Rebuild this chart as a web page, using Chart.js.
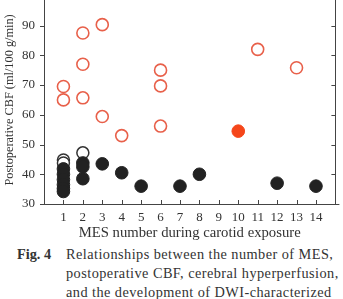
<!DOCTYPE html>
<html>
<head>
<meta charset="utf-8">
<script src="https://cdn.jsdelivr.net/npm/chart.js@4.4.1/dist/chart.umd.min.js"></script>
<style>
  body { margin: 0; background: #fff; width: 343px; height: 299px; overflow: hidden; position: relative; }
  #wrap { position: absolute; left: 0; top: -21px; width: 343px; height: 263px; }
  .cap { position: absolute; font-family: "Liberation Serif", serif; font-size: 14.3px; letter-spacing: 0.45px; color: #333; white-space: nowrap; }
  .fig { font-weight: bold; letter-spacing: 0; }
</style>
</head>
<body>
<div id="wrap"><canvas id="scatter"></canvas></div>
<div class="cap fig" style="left:17px; top:246px;">Fig. 4</div>
<div class="cap" style="left:66px; top:246px;">Relationships between the number of MES,</div>
<div class="cap" style="left:66px; top:265px;">postoperative CBF, cerebral hyperperfusion,</div>
<div class="cap" style="left:66px; top:284px;">and the development of DWI-characterized</div>
<script>
// MES count (x) vs postoperative CBF (y)
const mesRedOpen = [1, 1, 2, 2, 2, 3, 3, 4, 6, 6, 6, 11, 13];
const cbfRedOpen = [69.5, 65, 87.5, 77, 65.7, 90.3, 59.4, 53, 75, 69.7, 56.2, 82, 75.8];
const mesRedFilled = [10];
const cbfRedFilled = [54.5];
const mesBlackOpen = [1, 1, 2];
const cbfBlackOpen = [44.8, 43.8, 47.2];
const mesBlackFilled = [1, 1, 1, 1, 1, 1, 2, 2, 2, 3, 4, 5, 7, 8, 12, 14];
const cbfBlackFilled = [41.8, 40, 38.2, 36.5, 35.2, 34.2, 43.8, 42.5, 38.5, 43.5, 40.5, 36, 36, 40, 37, 36];
const xTicks = [1, 2, 3, 4, 5, 6, 7, 8, 9, 10, 11, 12, 13, 14];
const yTicks = [30, 40, 50, 60, 70, 80, 90, 100];

function pts(xs, ys) {
  return xs.map((x, i) => ({ x: x, y: ys[i] }));
}

const axisColor = "#444";
const serif = "'Liberation Serif', serif";

// small tick marks: left outward, right and bottom inward
const tickMarks = {
  id: "tickMarks",
  afterDraw(chart) {
    const ctx = chart.ctx;
    const a = chart.chartArea;
    const x = chart.scales.x;
    const y = chart.scales.y;
    ctx.save();
    ctx.strokeStyle = axisColor;
    ctx.lineWidth = 1;
    ctx.beginPath();
    y.ticks.forEach((t) => {
      const py = Math.round(y.getPixelForValue(t.value)) + 0.5;
      ctx.moveTo(a.left - 4, py);
      ctx.lineTo(a.left, py);
      ctx.moveTo(a.right, py);
      ctx.lineTo(a.right - 4, py);
    });
    x.ticks.forEach((t) => {
      const px = Math.round(x.getPixelForValue(t.value)) + 0.5;
      ctx.moveTo(px, a.bottom);
      ctx.lineTo(px, a.bottom - 4);
    });
    // axis line runs a little past the corners
    ctx.moveTo(a.left - 4, a.bottom + 0.5);
    ctx.lineTo(a.right + 4, a.bottom + 0.5);
    ctx.stroke();
    ctx.restore();
  },
};

new Chart(document.getElementById("scatter"), {
  type: "scatter",
  data: {
    datasets: [
      {
        label: "filled black",
        data: pts(mesBlackFilled, cbfBlackFilled),
        backgroundColor: "#222",
        borderColor: "#222",
        borderWidth: 1,
        pointRadius: 6.3,
        order: 0,
      },
      {
        label: "open black",
        data: pts(mesBlackOpen, cbfBlackOpen),
        backgroundColor: "#fff",
        borderColor: "#333",
        borderWidth: 1.5,
        pointRadius: 6,
        order: 1,
      },
      {
        label: "open red",
        data: pts(mesRedOpen, cbfRedOpen),
        backgroundColor: "rgba(255,255,255,0)",
        borderColor: "#e8604a",
        borderWidth: 1.6,
        pointRadius: 6,
        order: 2,
      },
      {
        label: "filled red",
        data: pts(mesRedFilled, cbfRedFilled),
        backgroundColor: "#f5461a",
        borderColor: "#f5461a",
        borderWidth: 1,
        pointRadius: 6.3,
        order: 0,
      },
    ],
  },
  options: {
    responsive: true,
    maintainAspectRatio: false,
    animation: false,
    layout: { padding: { top: 6, right: 7, left: 0, bottom: 0 } },
    plugins: { legend: { display: false }, tooltip: { enabled: false } },
    scales: {
      x: {
        type: "linear",
        min: 0,
        max: 15,
        afterFit: (s) => { s.height = 38; },
        afterBuildTicks: (s) => { s.ticks = xTicks.map((v) => ({ value: v })); },
        grid: { display: false, drawTicks: false },
        border: { display: false },
        ticks: { color: "#333", padding: 6, maxRotation: 0, font: { family: serif, size: 13 } },
        title: {
          display: true,
          text: "MES number during carotid exposure",
          color: "#333",
          padding: { top: 4, bottom: 0 },
          font: { family: serif, size: 14.7 },
        },
      },
      y: {
        min: 30,
        max: 100,
        afterFit: (s) => { s.width = 44; },
        afterBuildTicks: (s) => { s.ticks = yTicks.map((v) => ({ value: v })); },
        grid: { display: false, drawTicks: false },
        border: { display: true, color: axisColor, width: 1 },
        ticks: { color: "#333", padding: 9, font: { family: serif, size: 13 } },
        title: {
          display: true,
          text: "Postoperative CBF (ml/100 g/min)",
          color: "#333",
          padding: { top: 2, bottom: 0 },
          font: { family: serif, size: 12.3 },
        },
      },
      y2: {
        position: "right",
        min: 30,
        max: 100,
        afterFit: (s) => { s.width = 0; },
        grid: { display: false, drawTicks: false },
        border: { display: true, color: axisColor, width: 1 },
        ticks: { display: false },
      },
    },
  },
  plugins: [tickMarks],
});
</script>
</body>
</html>
